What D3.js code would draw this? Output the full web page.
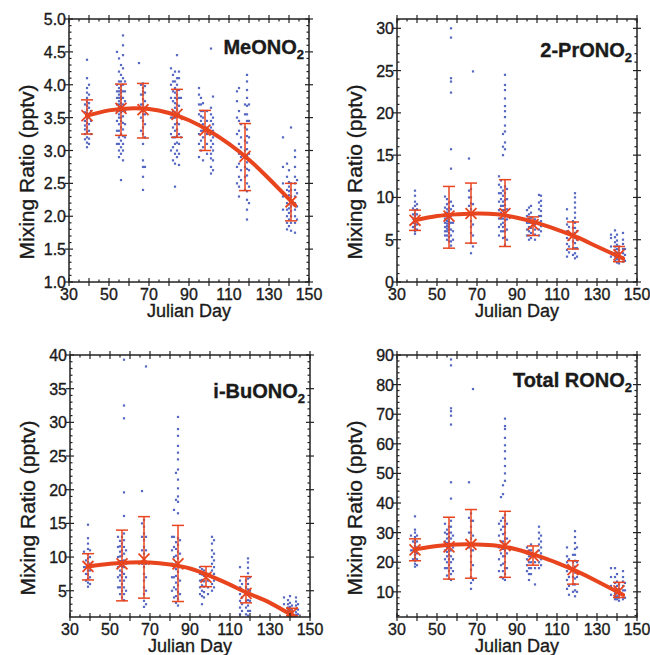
<!DOCTYPE html>
<html>
<head>
<meta charset="utf-8">
<script src="https://cdn.jsdelivr.net/npm/d3@7"></script>
<style>
body { margin: 0; background: #fff; }
text { font-family: "Liberation Sans", Arial, sans-serif; fill: #1a1a1a; stroke: #1a1a1a; stroke-width: 0.35px; }
</style>
</head>
<body>
<svg id="chart" width="650" height="655"></svg>
<script>
var dayTicks = [30, 50, 70, 90, 110, 130, 150];
var meanDays = [39, 56, 67, 84, 98, 118, 141];
var fitDays = [39, 50, 60, 70, 80, 90, 100, 110, 120, 130, 143];

// MeONO2, each column is [day, values...]
var meoPoints = [
    [38, 3.17, 3.25, 3.32, 3.38, 3.45, 3.58, 3.7],
    [39, 3.05, 3.12, 3.2, 3.28, 3.35, 3.42, 3.48, 3.52, 3.57, 3.62, 3.68, 3.74, 3.8, 3.88, 3.95, 4.1, 4.38],
    [40, 3.1, 3.18, 3.3, 3.4, 3.5, 3.55, 3.65, 3.72, 3.85, 4.0],
    [41, 3.25, 3.45, 3.6],
    [54, 3.1, 3.3, 3.45, 3.6, 3.7, 3.8, 3.9, 4.0, 4.5],
    [55, 2.9, 3.0, 3.1, 3.2, 3.3, 3.4, 3.5, 3.55, 3.6, 3.65, 3.7, 3.75, 3.8, 3.85, 3.9, 3.95, 4.05, 4.2, 4.4],
    [56, 2.55, 2.95, 3.05, 3.15, 3.25, 3.35, 3.45, 3.5, 3.58, 3.62, 3.68, 3.72, 3.78, 3.82, 3.88, 3.92, 3.98, 4.05, 4.15, 4.3],
    [57, 2.85, 3.0, 3.1, 3.22, 3.32, 3.42, 3.52, 3.6, 3.7, 3.8, 3.9, 4.0, 4.1, 4.25, 4.45, 4.6, 4.75],
    [58, 3.2, 3.4, 3.6, 3.75, 3.9, 4.05],
    [65, 4.33],
    [66, 3.3, 3.5, 3.7, 3.85, 4.0],
    [67, 2.4, 2.6, 2.75, 2.85, 3.1, 3.25, 3.35, 3.45, 3.55, 3.6, 3.65, 3.7, 3.78, 3.85, 3.9, 3.95, 4.02],
    [68, 2.75, 3.2, 3.4, 3.55, 3.65, 3.75, 3.88, 3.98],
    [81, 3.0, 3.25, 3.5, 3.8, 4.0, 4.25],
    [82, 2.85, 3.05, 3.2, 3.35, 3.5, 3.6, 3.75, 3.9, 4.05, 4.15],
    [83, 2.45, 2.8, 2.95, 3.1, 3.2, 3.3, 3.4, 3.5, 3.58, 3.65, 3.72, 3.8, 3.88, 3.95, 4.05, 4.2],
    [84, 2.9, 3.0, 3.12, 3.22, 3.32, 3.42, 3.52, 3.62, 3.7, 3.78, 3.85, 3.92, 4.0, 4.1, 4.45],
    [85, 2.78, 2.95, 3.1, 3.25, 3.4, 3.55, 3.68, 3.8, 3.92, 4.1, 4.2],
    [86, 3.2, 3.5, 3.8],
    [95, 2.9, 3.1, 3.25, 3.4, 3.55, 3.7, 3.85, 3.95],
    [96, 3.0, 3.15, 3.3, 3.38, 3.45, 3.52, 3.6, 3.7, 3.8],
    [97, 2.85, 3.05, 3.2, 3.3, 3.4, 3.5, 3.6, 3.72],
    [99, 2.95, 3.1, 3.25, 3.35, 3.45, 3.6],
    [101, 2.65, 2.75, 2.88, 2.95, 3.05, 3.15, 3.25, 3.35, 3.45, 3.55, 3.65, 4.55],
    [102, 2.7, 2.85, 3.0, 3.1, 3.2, 3.3, 3.4, 3.5, 3.82],
    [114, 2.5, 2.75, 3.0, 3.25, 3.5, 3.75, 3.9],
    [115, 2.3, 2.45, 2.6, 2.8, 2.95, 3.1, 3.3, 3.45, 3.6, 3.95],
    [116, 2.55, 2.7, 2.9, 3.05, 3.2, 3.4],
    [118, 2.4, 2.6, 2.75, 2.9, 3.0, 3.15, 3.35, 3.55, 3.7],
    [119, 1.95, 2.1, 2.25, 2.38, 2.5, 2.62, 2.72, 2.82, 2.92, 3.02, 3.12, 3.22, 3.32, 3.45, 3.55, 3.68, 3.8, 3.92, 4.05, 4.15],
    [120, 2.2, 2.45, 2.7, 2.95, 3.2, 3.45, 3.7],
    [137, 2.1, 2.3, 2.5, 2.75, 3.2],
    [139, 1.8, 1.9, 2.0, 2.1, 2.2, 2.3, 2.4, 2.6, 2.8],
    [140, 1.85, 1.95, 2.05, 2.12, 2.18, 2.25, 2.32, 2.38, 2.45, 2.52, 2.7],
    [141, 1.78, 1.9, 2.0, 2.08, 2.15, 2.22, 2.3, 2.4, 2.5, 3.35],
    [143, 1.75, 1.9, 2.0, 2.1, 2.2, 2.3, 2.4, 2.5, 2.6, 2.75, 2.9, 3.0],
    [144, 1.95, 2.15, 2.35, 2.55]
];
var meoMean = [3.53, 3.64, 3.62, 3.55, 3.31, 2.91, 2.22];
var meoUpper = [3.77, 4.01, 4.02, 3.93, 3.61, 3.41, 2.5];
var meoLower = [3.25, 3.23, 3.19, 3.2, 3.0, 2.39, 1.93];
var meoFit = [3.53, 3.61, 3.64, 3.63, 3.57, 3.46, 3.3, 3.1, 2.86, 2.57, 2.17];
var meoTicks = [1.0, 1.5, 2.0, 2.5, 3.0, 3.5, 4.0, 4.5, 5.0];

// 2-PrONO2
var prPoints = [
    [38, 6.5, 7.0, 7.5, 8.0, 8.7],
    [39, 5.7, 6.0, 6.3, 6.6, 6.9, 7.2, 7.5, 7.8, 8.1, 8.5, 9.0, 9.5, 10.2, 10.8],
    [40, 6.2, 6.8, 7.4, 8.0, 8.6, 9.2],
    [54, 5.5, 6.0, 6.5, 7.0, 7.5, 8.0, 8.8, 10.1],
    [55, 5.0, 5.5, 6.0, 6.3, 6.6, 6.9, 7.2, 7.5, 7.8, 8.2, 8.6, 9.2, 9.8],
    [56, 4.8, 5.3, 5.8, 6.2, 6.5, 6.8, 7.1, 7.4, 7.7, 8.0, 8.4, 8.8, 9.4],
    [57, 4.3, 4.8, 5.5, 6.2, 7.0, 7.8, 8.6, 9.5, 13.4, 15.7, 22.4, 23.7, 24.1, 28.9, 30.0],
    [58, 5.0, 6.0, 7.0, 8.0, 9.0],
    [66, 8.0, 9.0, 10.0, 10.8, 14.6],
    [67, 3.4, 4.6, 5.8, 6.5, 7.2, 7.9, 8.6, 9.3, 10.0, 11.0],
    [68, 4.2, 5.5, 6.8, 8.0, 9.2, 24.9],
    [81, 5.5, 6.5, 7.5, 8.5, 9.5, 10.5, 11.5, 12.5],
    [82, 6.0, 6.8, 7.5, 8.2, 9.0, 9.8, 10.5, 11.2, 12.0],
    [83, 5.2, 6.0, 6.5, 7.0, 7.5, 8.0, 8.5, 9.0, 9.5, 10.2, 10.8, 15.0, 16.0, 17.5],
    [84, 4.4, 5.3, 6.0, 6.7, 7.3, 7.9, 8.5, 9.1, 9.7, 10.5, 11.3, 15.7, 16.5, 17.8, 18.5, 19.5, 20.2, 20.8, 21.7, 22.7, 23.3, 24.5],
    [85, 5.0, 6.2, 7.4, 8.6, 9.8, 11.0],
    [95, 5.5, 6.2, 7.0, 7.8, 8.5],
    [96, 5.0, 5.5, 6.0, 6.5, 7.0, 7.5, 8.0, 8.8],
    [97, 5.2, 5.8, 6.4, 7.0, 7.6, 8.2, 9.0],
    [99, 5.0, 5.6, 6.2, 6.8, 7.4],
    [101, 5.5, 6.2, 7.0, 7.8, 8.6, 9.4, 10.3],
    [102, 6.0, 6.6, 7.2, 7.8, 8.4, 9.0, 9.6, 10.2],
    [115, 3.0, 3.8, 4.5, 5.2, 6.0, 6.8, 7.5, 8.6],
    [116, 3.5, 4.2, 5.0, 5.8, 6.5],
    [118, 3.2, 4.0, 4.8, 5.6, 6.4, 7.2],
    [119, 2.8, 3.4, 4.0, 4.6, 5.2, 5.8, 6.4, 7.0, 7.6, 8.2, 8.8, 9.4, 10.0, 10.5],
    [120, 3.0, 4.0, 5.0, 6.0],
    [137, 3.0, 3.5, 4.2, 5.2, 5.6],
    [139, 2.5, 3.0, 3.4, 3.8, 4.2, 4.7, 5.3, 6.1],
    [140, 2.3, 2.7, 3.1, 3.5, 3.9, 4.4, 4.9, 5.6],
    [141, 2.2, 2.6, 3.0, 3.4, 3.8, 4.2],
    [143, 2.4, 2.9, 3.4, 3.9, 4.5, 5.0, 5.8],
    [144, 2.5, 3.2, 3.9]
];
var prMean = [7.3, 7.8, 8.1, 8.1, 6.8, 5.5, 3.2];
var prUpper = [8.5, 11.3, 11.7, 12.1, 7.7, 7.1, 4.2];
var prLower = [6.1, 4.0, 4.6, 4.2, 5.5, 3.9, 2.4];
var prFit = [7.3, 7.8, 8.0, 8.1, 8.0, 7.6, 7.0, 6.2, 5.3, 4.2, 2.8];
var prTicks = [0, 5, 10, 15, 20, 25, 30];

// i-BuONO2
var buPoints = [
    [37, 8.5, 10.8],
    [38, 6.5, 7.5, 8.5, 9.5],
    [39, 5.6, 6.2, 6.8, 7.4, 8.0, 8.6, 9.2, 9.8, 10.4, 11.2, 12.0, 12.8, 14.8],
    [40, 6.0, 7.0, 8.0, 9.0, 10.0, 11.0],
    [54, 5.5, 7.0, 8.5, 10.0, 11.5, 13.0],
    [55, 4.5, 5.5, 6.5, 7.3, 8.0, 8.7, 9.4, 10.1, 10.8, 11.6, 12.4],
    [56, 4.0, 5.0, 6.0, 7.0, 7.8, 8.6, 9.4, 10.2, 11.0, 12.0, 13.0],
    [57, 3.6, 4.5, 5.5, 6.5, 7.5, 8.5, 9.5, 10.5, 11.5, 12.5, 13.5, 16.1, 19.6, 30.6, 32.5, 39.3],
    [58, 5.0, 7.0, 9.0, 11.0],
    [66, 9.0, 11.0, 13.0, 15.0, 19.8],
    [67, 2.6, 3.5, 4.5, 5.5, 6.5, 7.5, 8.5, 9.5, 10.5, 11.5, 12.5, 13.5, 14.5, 15.5],
    [68, 3.0, 5.0, 7.0, 9.0, 11.0, 13.0, 38.3],
    [81, 5.0, 7.0, 9.0, 11.0, 13.0],
    [82, 4.0, 5.5, 7.0, 8.5, 10.0, 11.5, 13.0, 17.0],
    [83, 3.2, 4.2, 5.2, 6.2, 7.2, 8.2, 9.2, 10.2, 11.2, 12.2, 18.5, 22.5],
    [84, 2.8, 3.8, 4.8, 5.8, 6.8, 7.8, 8.8, 9.8, 10.8, 11.8, 12.8, 16.5, 18.2, 19.0, 20.2, 21.5, 23.0, 24.5, 25.5, 26.5, 28.0, 29.0, 30.8],
    [85, 4.5, 6.5, 8.5, 10.5, 12.5],
    [95, 4.5, 5.5, 6.5, 7.5, 8.5],
    [96, 3.0, 4.2, 5.0, 5.8, 6.6, 7.4, 8.2],
    [97, 4.0, 4.8, 5.6, 6.4, 7.2, 8.0],
    [99, 4.5, 5.5, 6.5, 7.5],
    [101, 5.0, 6.0, 7.0, 8.0, 9.0, 10.0, 11.0, 12.0, 13.0],
    [102, 5.5, 6.5, 7.5, 8.5, 9.5, 10.5, 12.5],
    [115, 1.5, 2.5, 3.5, 4.5, 5.5, 6.5, 8.5],
    [116, 2.0, 3.0, 4.0, 5.0, 6.0],
    [118, 1.5, 2.5, 3.5, 4.5, 5.5, 6.5],
    [119, 1.3, 2.0, 2.8, 3.6, 4.4, 5.2, 6.0, 6.8, 7.6, 8.4, 9.2, 9.8],
    [120, 2.0, 3.5, 5.0, 7.0],
    [137, 2.0, 3.0, 4.0],
    [139, 1.3, 1.7, 2.1, 2.5, 3.0, 3.6],
    [140, 1.3, 1.6, 1.9, 2.2, 2.6, 3.2, 4.2],
    [141, 1.4, 1.8, 2.2, 2.8],
    [143, 1.4, 1.8, 2.3, 2.8, 3.4, 4.0],
    [144, 1.5, 2.2, 3.0]
];
var buMean = [8.6, 9.0, 9.7, 9.0, 7.0, 4.6, 1.7];
var buUpper = [10.5, 14.0, 16.0, 14.7, 8.6, 7.1, 2.4];
var buLower = [6.6, 3.5, 3.9, 3.4, 5.6, 3.2, 1.3];
var buFit = [8.6, 9.0, 9.2, 9.2, 8.9, 8.3, 7.2, 5.9, 4.5, 3.2, 1.0];
var buTicks = [5, 10, 15, 20, 25, 30, 35, 40];

// Total RONO2
var totPoints = [
    [37, 24, 29],
    [38, 21, 24, 27],
    [39, 18.5, 19.5, 20.5, 21.5, 22.5, 23.5, 24.5, 25.5, 26.5, 27.5, 28.5, 30, 31, 35.5],
    [40, 19, 21, 23, 25, 27, 29],
    [54, 18, 21, 24, 27, 30, 33],
    [55, 15.5, 18, 20, 22, 23.5, 25, 26.5, 28, 29.5, 31],
    [56, 14.5, 17, 19, 21, 22.5, 24, 25.5, 27, 28.5, 30, 32],
    [57, 14, 16, 18, 20, 22, 24, 26, 28, 30, 32, 34, 41.5, 47, 66.5, 69.5, 71, 72, 86.5, 88.5],
    [58, 17, 21, 25, 29],
    [66, 25, 30, 35, 47],
    [67, 11, 13, 15, 17.5, 20, 22, 24, 26, 28, 30, 32, 34, 36.5],
    [68, 14, 19, 24, 29, 34, 78.5],
    [81, 17, 21, 25, 29, 33],
    [82, 15, 19, 23, 27, 31, 34, 42],
    [83, 14.5, 17, 19.5, 22, 24.5, 27, 29.5, 32, 35, 43, 46],
    [84, 14, 16, 18, 20, 22, 24, 26, 28, 30, 32, 34, 36, 47.5, 50, 52.5, 55, 57.5, 59.5, 62, 65, 66, 68.5],
    [85, 18, 23, 28, 33],
    [95, 17, 19, 21, 23, 25],
    [96, 14, 16, 18, 20, 22, 24],
    [97, 16, 18, 20, 22, 24, 26],
    [99, 12.5, 18, 20, 22],
    [101, 18, 20, 22, 24, 26, 28, 30, 32],
    [102, 19, 21, 23, 25, 27, 29],
    [115, 11, 14, 17, 20, 22, 25],
    [116, 9, 12, 15, 18, 21],
    [118, 10, 12.5, 15, 17.5, 20, 22.5],
    [119, 8.5, 10.5, 12.5, 14.5, 16.5, 18.5, 20.5, 22.5, 24.5, 26.5, 28.5, 30.5],
    [120, 10, 15, 20, 25],
    [137, 9, 12, 15, 18],
    [139, 7.5, 8.5, 9.5, 10.5, 11.5, 13, 15, 18],
    [140, 7.5, 8.5, 9.5, 10.5, 12, 13.5, 16],
    [141, 7, 8, 9, 10, 11, 12.5],
    [143, 7.5, 9, 10.5, 12, 13.5, 15, 17],
    [144, 8, 10.5, 13]
];
var totMean = [24.2, 25.2, 26.0, 25.6, 22.2, 17.5, 10.3];
var totUpper = [27.9, 35.2, 37.8, 37.2, 25.5, 20.5, 13.2];
var totLower = [20.5, 14.3, 14.6, 14.9, 19.0, 12.6, 8.1];
var totFit = [24.4, 25.5, 26.0, 26.0, 25.6, 24.3, 22.2, 19.8, 16.9, 13.6, 9.0];
var totTicks = [10, 20, 30, 40, 50, 60, 70, 80, 90];

var panels = [
    {name: "MeONO", pts: meoPoints, mean: meoMean, up: meoUpper, lo: meoLower, fit: meoFit,
     ticks: meoTicks, minor: 0.1, domain: [1, 5], fmt: ".1f", x: 69, y: 19, h: 263, ty: 54},
    {name: "2-PrONO", pts: prPoints, mean: prMean, up: prUpper, lo: prLower, fit: prFit,
     ticks: prTicks, minor: 1, domain: [0, 31.1], fmt: "d", x: 397, y: 19, h: 263, ty: 57},
    {name: "i-BuONO", pts: buPoints, mean: buMean, up: buUpper, lo: buLower, fit: buFit,
     ticks: buTicks, minor: 1, domain: [1.1, 40], fmt: "d", x: 70, y: 355, h: 262, ty: 398},
    {name: "Total RONO", pts: totPoints, mean: totMean, up: totUpper, lo: totLower, fit: totFit,
     ticks: totTicks, minor: 2, domain: [1.5, 90], fmt: "d", x: 397, y: 355, h: 262, ty: 387}
];

var svg = d3.select("#chart");
var W = 240;
var red = "#e8451f";
var blue = "#3a4db8";

panels.forEach(function(p, k) {
    var g = svg.append("g").attr("transform", "translate(" + p.x + "," + p.y + ")");
    var x = d3.scaleLinear().domain([30, 150]).range([0, W]);
    var y = d3.scaleLinear().domain(p.domain).range([p.h, 0]);

    g.append("clipPath").attr("id", "clip" + k)
        .append("rect").attr("width", W).attr("height", p.h);

    // flatten the columns into points
    var pts = [];
    p.pts.forEach(function(c) {
        c.slice(1).forEach(function(v) { pts.push({d: c[0], v: v}); });
    });

    var plot = g.append("g").attr("clip-path", "url(#clip" + k + ")");

    plot.selectAll(".pt")
        .data(pts)
        .enter().append("rect")
        .attr("class", "pt")
        .attr("x", function(d) { return x(d.d) - 1.1; })
        .attr("y", function(d) { return y(d.v) - 1.1; })
        .attr("width", 2.2)
        .attr("height", 2.2)
        .attr("fill", blue)
        .attr("opacity", 0.85);

    var fit = fitDays.map(function(d, i) { return [d, p.fit[i]]; });
    plot.append("path")
        .datum(fit)
        .attr("fill", "none")
        .attr("stroke", red)
        .attr("stroke-width", 4)
        .attr("stroke-linecap", "round")
        .attr("d", d3.line()
            .x(function(d) { return x(d[0]); })
            .y(function(d) { return y(d[1]); })
            .curve(d3.curveNatural));

    var bars = plot.selectAll(".err")
        .data(meanDays)
        .enter().append("g")
        .attr("class", "err")
        .attr("stroke", red)
        .attr("stroke-width", 1.5);
    bars.append("line")
        .attr("x1", function(d) { return x(d); })
        .attr("x2", function(d) { return x(d); })
        .attr("y1", function(d, i) { return y(p.up[i]); })
        .attr("y2", function(d, i) { return y(p.lo[i]); });
    bars.append("line")
        .attr("x1", function(d) { return x(d) - 6; })
        .attr("x2", function(d) { return x(d) + 6; })
        .attr("y1", function(d, i) { return y(p.up[i]); })
        .attr("y2", function(d, i) { return y(p.up[i]); });
    bars.append("line")
        .attr("x1", function(d) { return x(d) - 6; })
        .attr("x2", function(d) { return x(d) + 6; })
        .attr("y1", function(d, i) { return y(p.lo[i]); })
        .attr("y2", function(d, i) { return y(p.lo[i]); });
    bars.append("path")
        .attr("transform", function(d, i) {
            return "translate(" + x(d) + "," + y(p.mean[i]) + ")";
        })
        .attr("d", d3.symbol().type(d3.symbolX).size(80))
        .attr("fill", "none")
        .attr("stroke-width", 1.8);

    // frame and ticks
    g.append("rect")
        .attr("width", W)
        .attr("height", p.h)
        .attr("fill", "none")
        .attr("stroke", "#222")
        .attr("stroke-width", 1.5);

    var xMinor = d3.range(35, 150, 10);
    var yMinor = d3.range(Math.ceil(p.domain[0] / p.minor) * p.minor, p.domain[1], p.minor)
        .filter(function(v) { return p.ticks.indexOf(+v.toFixed(2)) < 0; });
    var tk = g.append("g").attr("stroke", "#222").attr("stroke-width", 1.2);

    [0, p.h].forEach(function(yy) {
        tk.selectAll(null).data(dayTicks.concat(d3.range(40, 150, 20))).enter().append("line")
            .attr("x1", function(d) { return x(d); })
            .attr("x2", function(d) { return x(d); })
            .attr("y1", yy - 4).attr("y2", yy + 4);
        tk.selectAll(null).data(xMinor).enter().append("line")
            .attr("x1", function(d) { return x(d); })
            .attr("x2", function(d) { return x(d); })
            .attr("y1", yy === 0 ? 0 : yy - 2.5).attr("y2", yy === 0 ? 2.5 : yy);
    });
    [0, W].forEach(function(xx) {
        tk.selectAll(null).data(p.ticks).enter().append("line")
            .attr("x1", xx - 4).attr("x2", xx + 4)
            .attr("y1", function(d) { return y(d); })
            .attr("y2", function(d) { return y(d); });
        tk.selectAll(null).data(yMinor).enter().append("line")
            .attr("x1", xx === 0 ? 0 : xx - 2.5).attr("x2", xx === 0 ? 2.5 : xx)
            .attr("y1", function(d) { return y(d); })
            .attr("y2", function(d) { return y(d); });
    });

    g.selectAll(".xl")
        .data(dayTicks)
        .enter().append("text")
        .attr("x", function(d) { return x(d); })
        .attr("y", p.h + 18)
        .style("text-anchor", "middle")
        .style("font-size", "16px")
        .text(function(d) { return d; });

    g.selectAll(".yl")
        .data(p.ticks)
        .enter().append("text")
        .attr("x", -3)
        .attr("y", function(d) { return y(d) + 6; })
        .style("text-anchor", "end")
        .style("font-size", "16px")
        .text(function(d) { return d3.format(p.fmt)(d); });

    g.append("text")
        .attr("x", W / 2)
        .attr("y", p.h + 35)
        .style("text-anchor", "middle")
        .style("font-size", "18px")
        .text("Julian Day");

    g.append("text")
        .attr("transform", "translate(" + (-35) + "," + 153 + ") rotate(-90)")
        .style("text-anchor", "middle")
        .style("font-size", "21px")
        .text("Mixing Ratio (pptv)");

    var t = g.append("text")
        .attr("x", W - 5)
        .attr("y", p.ty - p.y)
        .style("text-anchor", "end")
        .style("font-size", "20px")
        .style("font-weight", "bold");
    t.append("tspan").text(p.name);
    t.append("tspan").attr("dy", 5).style("font-size", "13px").text("2");
});
</script>
</body>
</html>
